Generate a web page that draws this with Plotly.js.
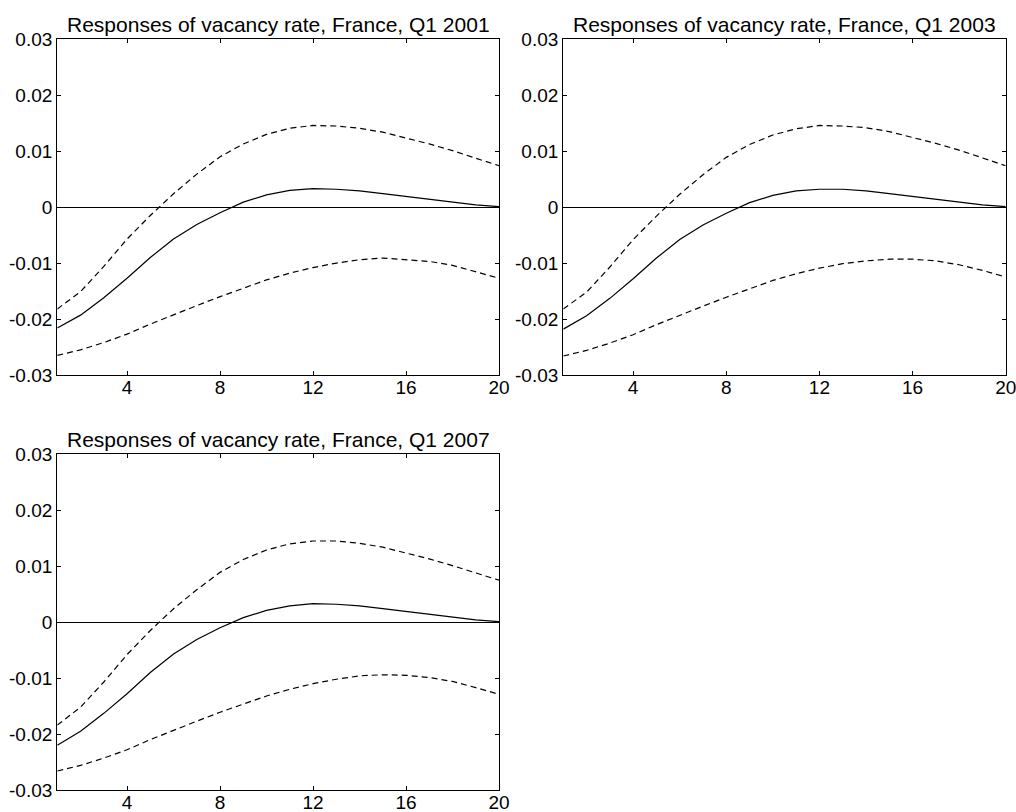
<!DOCTYPE html>
<html>
<head>
<meta charset="utf-8">
<script src="https://cdn.plot.ly/plotly-3.0.1.min.js"></script>
<style>html,body{margin:0;padding:0;background:#fff;}#chart{width:1016px;height:812px;}</style>
</head>
<body>
<div id="chart"></div>
<script>
const horizon = [1,2,3,4,5,6,7,8,9,10,11,12,13,14,15,16,17,18,19,20];

const titles = [
  "Responses of vacancy rate, France, Q1 2001",
  "Responses of vacancy rate, France, Q1 2003",
  "Responses of vacancy rate, France, Q1 2007"
];

const irf2001   = [-0.0216,-0.0193,-0.0162,-0.0127,-0.0090,-0.0057,-0.0031,-0.0010,0.0009,0.0022,0.0030,0.0033,0.0032,0.0029,0.0024,0.0019,0.0014,0.0009,0.0004,0.0001];
const upper2001 = [-0.0182,-0.0151,-0.0106,-0.0057,-0.0015,0.0024,0.0059,0.0090,0.0113,0.0130,0.0141,0.0146,0.0145,0.0141,0.0134,0.0124,0.0113,0.0101,0.0088,0.0074];
const lower2001 = [-0.0265,-0.0255,-0.0242,-0.0227,-0.0209,-0.0192,-0.0176,-0.0160,-0.0145,-0.0130,-0.0118,-0.0108,-0.0100,-0.0094,-0.0091,-0.0094,-0.0097,-0.0104,-0.0115,-0.0127];

const irf2003   = [-0.0218,-0.0194,-0.0163,-0.0128,-0.0091,-0.0058,-0.0032,-0.0011,0.0008,0.0021,0.0029,0.0032,0.0032,0.0029,0.0024,0.0019,0.0014,0.0009,0.0004,0.0001];
const upper2003 = [-0.0182,-0.0152,-0.0107,-0.0058,-0.0016,0.0023,0.0058,0.0089,0.0112,0.0129,0.0140,0.0146,0.0145,0.0142,0.0135,0.0125,0.0114,0.0102,0.0088,0.0074];
const lower2003 = [-0.0266,-0.0256,-0.0243,-0.0228,-0.0210,-0.0193,-0.0177,-0.0161,-0.0146,-0.0131,-0.0119,-0.0109,-0.0101,-0.0096,-0.0093,-0.0093,-0.0096,-0.0103,-0.0113,-0.0125];

const irf2007   = [-0.0220,-0.0195,-0.0163,-0.0128,-0.0090,-0.0057,-0.0031,-0.0010,0.0008,0.0021,0.0029,0.0033,0.0032,0.0029,0.0024,0.0019,0.0014,0.0009,0.0004,0.0001];
const upper2007 = [-0.0184,-0.0152,-0.0107,-0.0058,-0.0015,0.0024,0.0058,0.0089,0.0112,0.0129,0.0140,0.0145,0.0145,0.0141,0.0134,0.0124,0.0113,0.0101,0.0088,0.0075];
const lower2007 = [-0.0266,-0.0256,-0.0243,-0.0228,-0.0210,-0.0193,-0.0177,-0.0161,-0.0146,-0.0132,-0.0120,-0.0110,-0.0102,-0.0096,-0.0094,-0.0095,-0.0099,-0.0106,-0.0117,-0.0129];

const xTickVals = [4,8,12,16,20];
const yTickVals = [0.03,0.02,0.01,0,-0.01,-0.02,-0.03];
const yTickText = ["0.03","0.02","0.01","0","-0.01","-0.02","-0.03"];

const panels = [
  {irf: irf2001, up: upper2001, lo: lower2001, xa: 'x',  ya: 'y'},
  {irf: irf2003, up: upper2003, lo: lower2003, xa: 'x2', ya: 'y2'},
  {irf: irf2007, up: upper2007, lo: lower2007, xa: 'x3', ya: 'y3'}
];

const traces = [];
panels.forEach(p => {
  traces.push({x: horizon, y: p.up, xaxis: p.xa, yaxis: p.ya, mode: 'lines', line: {color: '#000', width: 1.2, dash: '6px,4px'}, hoverinfo: 'skip'});
  traces.push({x: horizon, y: p.irf, xaxis: p.xa, yaxis: p.ya, mode: 'lines', line: {color: '#000', width: 1.2}, hoverinfo: 'skip'});
  traces.push({x: horizon, y: p.lo, xaxis: p.xa, yaxis: p.ya, mode: 'lines', line: {color: '#000', width: 1.2, dash: '6px,4px'}, hoverinfo: 'skip'});
});

const W = 1016, H = 812;
const dom = [
  {x: [57.3/W, 499/W],     y: [1-375/H, 1-39.3/H]},
  {x: [563.3/W, 1005.7/W], y: [1-375/H, 1-39.3/H]},
  {x: [57.3/W, 499/W],     y: [1-790/H, 1-454.3/H]}
];

const tickFont = {family: 'Liberation Sans, Arial, sans-serif', size: 19, color: '#000'};
function xax(d, anchor) {
  return {domain: d, anchor: anchor, range: [1,20], tickvals: xTickVals, ticktext: xTickVals.map(String),
    ticks: 'inside', ticklen: 4, tickcolor: '#000', tickwidth: 1, showline: true, linecolor: '#000', linewidth: 1.2,
    mirror: 'ticks', showgrid: false, zeroline: false, tickfont: tickFont, fixedrange: true,
    ticklabeloverflow: 'allow', ticklabelstandoff: -5};
}
function yax(d, anchor) {
  return {domain: d, anchor: anchor, range: [-0.03,0.03], tickvals: yTickVals, ticktext: yTickText,
    ticks: 'inside', ticklen: 4, tickcolor: '#000', tickwidth: 1, showline: true, linecolor: '#000', linewidth: 1.2,
    mirror: 'ticks', showgrid: false, zeroline: true, zerolinecolor: '#000', zerolinewidth: 1.2, tickfont: tickFont, fixedrange: true,
    ticklabeloverflow: 'allow'};
}

const annotations = titles.map((t, i) => ({
  text: t, xref: 'paper', yref: 'paper', x: (dom[i].x[0]+dom[i].x[1])/2, y: dom[i].y[1],
  xanchor: 'center', yanchor: 'bottom', yshift: 1, showarrow: false,
  font: {family: 'Liberation Sans, Arial, sans-serif', size: 21, color: '#000'}
}));

const layout = {
  width: W, height: H, margin: {l: 0, r: 0, t: 0, b: 0},
  paper_bgcolor: '#fff', plot_bgcolor: '#fff', showlegend: false,
  xaxis: xax(dom[0].x, 'y'), yaxis: yax(dom[0].y, 'x'),
  xaxis2: xax(dom[1].x, 'y2'), yaxis2: yax(dom[1].y, 'x2'),
  xaxis3: xax(dom[2].x, 'y3'), yaxis3: yax(dom[2].y, 'x3'),
  annotations: annotations
};

Plotly.newPlot('chart', traces, layout, {displayModeBar: false, staticPlot: true});
</script>
</body>
</html>
